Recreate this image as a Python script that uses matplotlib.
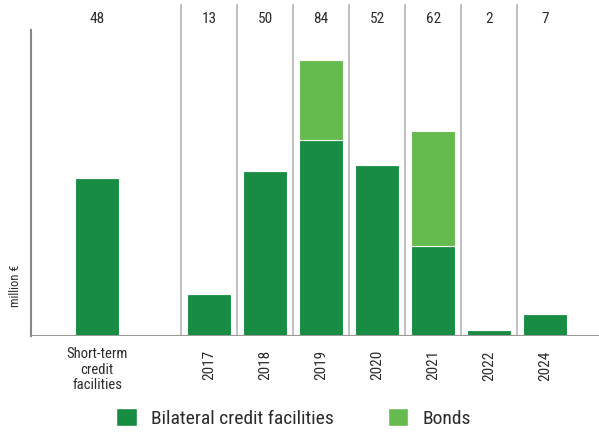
import matplotlib.pyplot as plt
from matplotlib.patches import Patch
from matplotlib import font_manager

# data
categories = ['Short-term\ncredit\nfacilities', '2017', '2018', '2019', '2020', '2021', '2022', '2024']
positions = [-2, 0, 1, 2, 3, 4, 5, 6]
bilateral = [48, 12.8, 50, 59.5, 52, 27.2, 1.8, 6.7]
bonds = [0, 0, 0, 24.5, 0, 35, 0, 0]
totals = ['48', '13', '50', '84', '52', '62', '2', '7']

dark = '#178c42'
light = '#66bb4f'
grey = '#b4b4b4'
txt = '#2b2b2b'

# narrow font if there is one
names = set(f.name for f in font_manager.fontManager.ttflist)
fam = 'DejaVu Sans'
for n in ['Liberation Sans Narrow', 'Roboto Condensed', 'DejaVu Sans Condensed']:
    if n in names:
        fam = n
        break
plt.rcParams['font.family'] = [fam, 'DejaVu Sans']

fig = plt.figure(figsize=(5.99, 4.32), dpi=100)
ax = fig.add_axes([31/599, 96/432, 568/599, 336/432])

ax.bar(positions, bilateral, width=0.79, color=dark, edgecolor='white', linewidth=0.8, zorder=3)
ax.bar(positions, bonds, width=0.79, bottom=bilateral, color=light, edgecolor='white', linewidth=0.8, zorder=3)

ax.set_xlim(-3.18, 6.96)
ax.set_ylim(0, 102.1)

# separators between columns
for s in [-0.5, 0.5, 1.5, 2.5, 3.5, 4.5, 5.5]:
    ax.plot([s, s], [0, 100.6], color=grey, lw=1.2, zorder=1)
ax.plot([-3.18, -3.18], [0, 93], color='#888888', lw=1.5, zorder=1, clip_on=False)

for sp in ax.spines.values():
    sp.set_visible(False)
ax.axhline(0, color='#999999', lw=1.5, zorder=4)

# totals on top
for p, t in zip(positions, totals):
    ax.text(p, 96.2, t, ha='center', va='center', fontsize=11, color=txt)

ax.set_xticks([])
ax.set_yticks([])
ax.text(-2, -3.3, categories[0], ha='center', va='top', fontsize=10.5, color=txt, linespacing=1.15)
for p, c in zip(positions[1:], categories[1:]):
    ax.text(p, -4.3, c, ha='center', va='top', rotation=90, fontsize=11, color=txt)

ax.text(-0.028, 0.15, 'million €', transform=ax.transAxes, rotation=90, ha='center', va='center',
        fontsize=9, color=txt)

handles = [Patch(facecolor=dark, edgecolor='white', label='Bilateral credit facilities'),
           Patch(facecolor=light, edgecolor='white', label='Bonds')]
fig.legend(handles=handles, loc='center', bbox_to_anchor=(0.49, 0.032), ncol=2, frameon=False,
           fontsize=14, handlelength=1.05, handleheight=1.05, columnspacing=2.8, handletextpad=0.72,
           labelcolor=txt, borderaxespad=0, borderpad=0)

fig.savefig('out.png', dpi=100)
